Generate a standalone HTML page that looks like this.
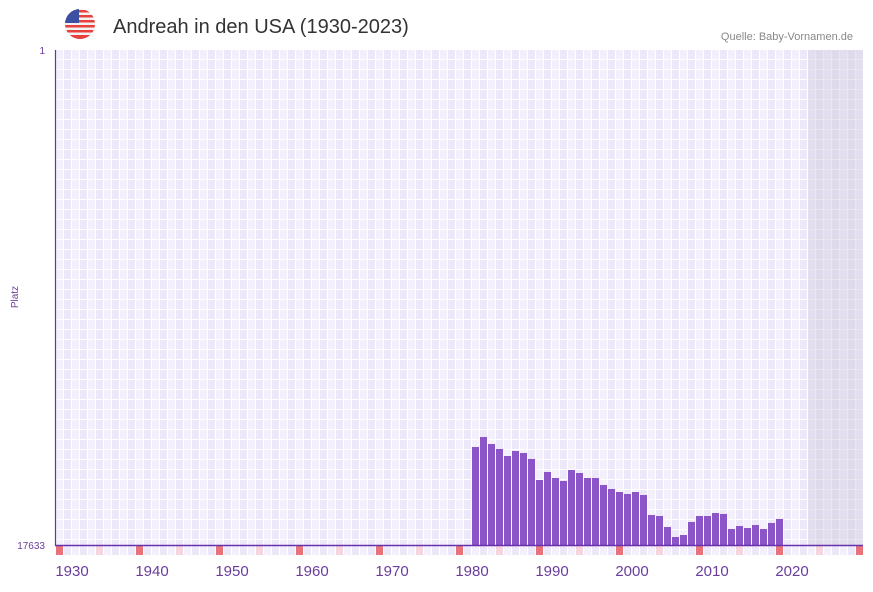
<!DOCTYPE html>
<html><head><meta charset="utf-8"><style>
body{margin:0;background:#fff;width:873px;height:587px;overflow:hidden;font-family:"Liberation Sans",sans-serif}
</style></head><body>
<svg width="873" height="587" xmlns="http://www.w3.org/2000/svg" font-family="Liberation Sans, sans-serif">
<defs>
<pattern id="g" x="56" y="50" width="16" height="10" patternUnits="userSpaceOnUse">
<rect width="16" height="10" fill="#fff"/>
<rect x="0" y="0" width="7" height="9" fill="#f3f0fc"/>
<rect x="8" y="0" width="7" height="9" fill="#ede8f9"/>
</pattern>
<pattern id="s" x="56" y="546" width="16" height="10" patternUnits="userSpaceOnUse">
<rect width="16" height="10" fill="#fff"/>
<rect x="0" y="0" width="7" height="9" fill="#f3f0fc"/>
<rect x="8" y="0" width="7" height="9" fill="#ede8f9"/>
</pattern>
<clipPath id="fc"><circle cx="80" cy="24" r="15"/></clipPath>
</defs>
<rect x="56" y="50" width="807" height="495" fill="url(#g)"/>
<rect x="808" y="50" width="55" height="495" fill="#cfc8dc" opacity="0.45"/>
<rect x="56" y="546" width="807" height="9" fill="url(#s)"/>
<g id="strip"></g>
<g clip-path="url(#fc)">
<rect x="65" y="9" width="30" height="30" fill="#f2f2f2"/>
<rect x="65" y="10" width="30" height="2.5" fill="#e8403c"/>
<rect x="65" y="15" width="30" height="2.5" fill="#e8403c"/>
<rect x="65" y="20" width="30" height="2.5" fill="#e8403c"/>
<rect x="65" y="25" width="30" height="2.5" fill="#e8403c"/>
<rect x="65" y="30" width="30" height="2.5" fill="#e8403c"/>
<rect x="65" y="35" width="30" height="4" fill="#e8403c"/>
<rect x="65" y="9" width="14" height="14" fill="#3d4fa0"/>
</g>
<text x="113" y="33" font-size="20" fill="#333">Andreah in den USA (1930-2023)</text>
<text x="853" y="40" font-size="11" fill="#888" text-anchor="end">Quelle: Baby-Vornamen.de</text>
<text x="45" y="54" font-size="10" fill="#6a3d9a" text-anchor="end">1</text>
<text x="45" y="549" font-size="10" fill="#6a3d9a" text-anchor="end">17633</text>
<text x="18" y="297" font-size="10" fill="#6a3d9a" text-anchor="middle" transform="rotate(-90 18 297)">Platz</text>
<g id="bars" fill="#8b55c8"></g>
<line x1="55.5" y1="50" x2="55.5" y2="546" stroke="#6633aa" stroke-width="1.2"/>
<line x1="55" y1="545.5" x2="863" y2="545.5" stroke="#6633aa" stroke-width="1.5"/>
<g font-size="15" fill="#6a3d9a" text-anchor="middle" id="xl"></g>
<script>
var ns="http://www.w3.org/2000/svg";
var tops={1980:447,1981:437,1982:444,1983:449,1984:456,1985:451,1986:453,1987:459,1988:480,1989:472,1990:478,1991:481,1992:470,1993:473,1994:478,1995:478,1996:485,1997:489,1998:492,1999:494,2000:492,2001:495,2002:515,2003:516,2004:527,2005:537,2006:535,2007:522,2008:516,2009:516,2010:513,2011:514,2012:529,2013:526,2014:528,2015:525,2016:529,2017:523,2018:519};
var b=document.getElementById("bars");
for(var y in tops){var r=document.createElementNS(ns,"rect");var x=56+(y-1928)*8;r.setAttribute("x",x);r.setAttribute("y",tops[y]);r.setAttribute("width",7);r.setAttribute("height",545-tops[y]);b.appendChild(r);}
var s=document.getElementById("strip");
for(var i=0;i<101;i++){if(i%5)continue;var r=document.createElementNS(ns,"rect");r.setAttribute("x",56+i*8);r.setAttribute("y",546);r.setAttribute("width",7);r.setAttribute("height",9);r.setAttribute("fill",i%10==0?"#e8727a":"#f5d5de");s.appendChild(r);}
var xl=document.getElementById("xl");
for(var k=0;k<=9;k++){var t=document.createElementNS(ns,"text");t.setAttribute("x",72+80*k);t.setAttribute("y",576);t.textContent=1930+10*k;xl.appendChild(t);}
</script>
</svg>
</body></html>
